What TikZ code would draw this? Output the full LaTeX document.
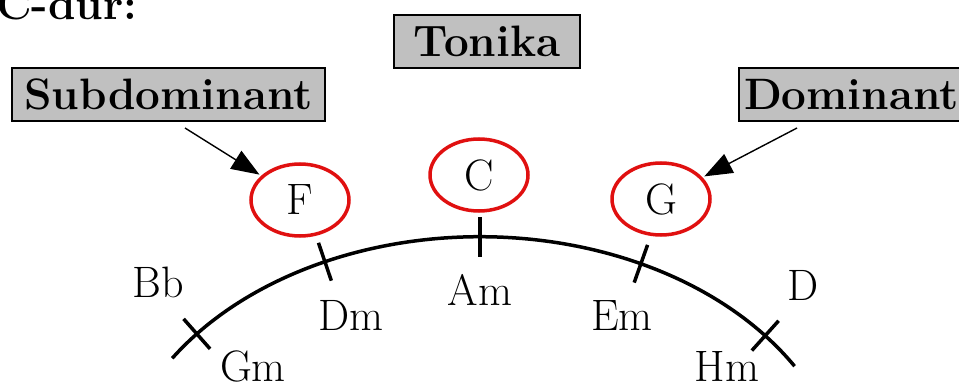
\documentclass[tikz,border=0pt]{standalone}
\usetikzlibrary{shapes.geometric,arrows.meta}
\definecolor{boxgray}{HTML}{C0C0C0}
\definecolor{ringred}{HTML}{E01010}
\newcommand\chordfont{\fontsize{44}{50}\selectfont}
\newcommand\headfont{\fontsize{44}{50}\selectfont\bfseries}
\begin{document}
\begin{tikzpicture}[x=1pt,y=-1pt,
  labbox/.style={draw=black, line width=2pt, fill=boxgray, font=\headfont, inner sep=0pt, minimum height=53pt},
  ring/.style={ellipse, draw=ringred, line width=3.5pt, minimum width=98pt, minimum height=72pt, inner sep=0pt, font=\chordfont},
  chord/.style={font=\chordfont, anchor=base, inner sep=0pt},
  arcline/.style={line width=3.5pt},
  tickline/.style={line width=3.5pt},
  pointer/.style={line width=1.4pt, -{Triangle[length=28pt,width=21pt]}, shorten >=2pt}
]
\useasboundingbox (0,0) rectangle (959,385);

% title
\node[font=\headfont, anchor=base west, inner sep=0pt] (title) at (-4,20) {C-dur:};

% boxes
\node[labbox, minimum width=186pt] (ton) at (487,41.5) {Tonika};
\node[labbox, minimum width=313pt] (sub) at (168.5,94.5) {Subdominant};
\node[labbox, anchor=west, inner xsep=5pt] (dom) at (738,95) {Dominant};

% rings
\node[ring] (ef) at (300,200) {F};
\node[ring] (ec) at (479,175) {C};
\node[ring] (eg) at (661,199) {G};

% pointers
\coordinate (ps) at (185,128);
\coordinate (pd) at (797,128);
\draw[pointer] (ps) -- (ef);
\draw[pointer] (pd) -- (eg);

% arc
\draw[arcline] plot[domain=31:147, samples=90, smooth] ({480+367*cos(\x)},{503.7-267*sin(\x)});

% ticks
\foreach \t in {140.5,115,90,64,39}{
  \pgfmathsetmacro\px{480+367*cos(\t)}
  \pgfmathsetmacro\py{503.7-267*sin(\t)}
  \pgfmathsetmacro\nx{267*cos(\t)}
  \pgfmathsetmacro\ny{367*sin(\t)}
  \pgfmathsetmacro\nn{veclen(\nx,\ny)}
  \pgfmathsetmacro\ux{20*\nx/\nn}
  \pgfmathsetmacro\uy{-20*\ny/\nn}
  \draw[tickline] ({\px-(\ux)},{\py-(\uy)}) -- ({\px+(\ux)},{\py+(\uy)});
}

% chord labels
\node[chord] (bb) at (158,297) {Bb};
\node[chord] (gm) at (253,381) {Gm};
\node[chord] (dm) at (351,330) {Dm};
\node[chord] (am) at (480,305) {Am};
\node[chord] (em) at (622,330) {Em};
\node[chord] (hm) at (727,381) {Hm};
\node[chord] (dd) at (803,300) {D};
\end{tikzpicture}
\end{document}
